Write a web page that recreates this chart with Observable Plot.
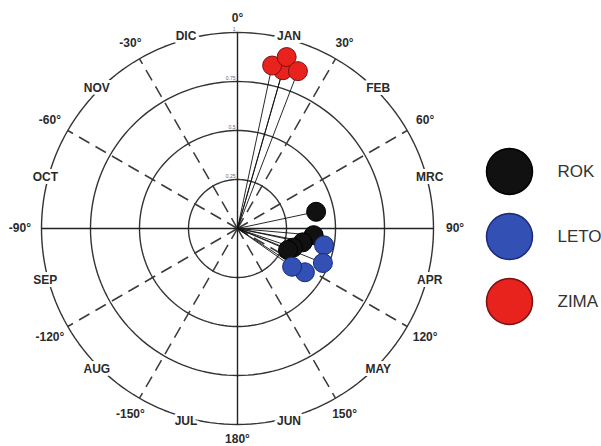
<!DOCTYPE html>
<html><head><meta charset="utf-8">
<script src="https://cdn.jsdelivr.net/npm/d3@7"></script>
<script src="https://cdn.jsdelivr.net/npm/@observablehq/plot@0.6"></script>
<style>
body{margin:0;background:#fff;}
#wrap{position:relative;width:601px;height:446px;overflow:hidden;background:#fff;}
#main{position:absolute;left:0;top:0;}
#legend{position:absolute;left:460px;top:0;}
svg{overflow:visible;}
#main text{paint-order:stroke;}
</style></head><body><div id="wrap"><div id="main"></div><div id="legend"></div></div>
<script>
// Series
const seriesNames = ["ROK", "LETO", "ZIMA"];
const seriesColors = ["#111111", "#3350b5", "#e8231e"];
const seriesStrokes = ["#000000", "#1b2a78", "#7a1010"];

// angle in degrees (clockwise from 0° at top), radius as fraction of outer ring
const rokAngle = [78, 95, 102, 109, 113];
const rokRadius = [0.41, 0.39, 0.34, 0.30, 0.28];
const letoAngle = [101, 112, 123, 125];
const letoRadius = [0.45, 0.47, 0.41, 0.34];
const zimaAngle = [16, 12, 16, 21];
const zimaRadius = [0.84, 0.85, 0.91, 0.86];

// Axis labels
const degreeTicks = [0, 30, 60, 90, 120, 150, 180, -150, -120, -90, -60, -30];
const monthLabels = ["JAN","FEB","MRC","APR","MAY","JUN","JUL","AUG","SEP","OCT","NOV","DIC"];
const monthAngles = [15, 45, 75, 105, 135, 165, 195, 225, 255, 285, 315, 345];
const ringLevels = [0.25, 0.5, 0.75, 1];
const ringLabels = ["0.25", "0.5", "0.75", "1"];
const dashedAngles = [30, 60, 120, 150, -30, -60, -120, -150];
const solidAngles = [0, 90];

const rad = a => a * Math.PI / 180;
const px = (a, r) => r * Math.sin(rad(a));
const py = (a, r) => r * Math.cos(rad(a));

const seriesData = [
  {angle: rokAngle, radius: rokRadius},
  {angle: letoAngle, radius: letoRadius},
  {angle: zimaAngle, radius: zimaRadius}
];
const points = seriesData.flatMap((s, i) => s.angle.map((a, j) => ({series: seriesNames[i], angle: a, radius: s.radius[j]})));

const ringPts = ringLevels.flatMap(level => d3.range(0, 361, 2).map(a => ({level, a})));

const font = "'Liberation Sans', Arial, sans-serif";

const main = Plot.plot({
  width: 470, height: 446,
  marginLeft: 41, marginRight: 37, marginTop: 32, marginBottom: 22,
  x: {domain: [-1, 1], axis: null},
  y: {domain: [-1, 1], axis: null},
  style: {fontFamily: font, background: "transparent"},
  marks: [
    Plot.line(ringPts, {x: d => px(d.a, d.level), y: d => py(d.a, d.level), z: "level", stroke: "#333", strokeWidth: 1.4}),
    Plot.link(dashedAngles, {x1: () => 0, y1: () => 0, x2: a => px(a, 1), y2: a => py(a, 1), stroke: "#3a3a3a", strokeWidth: 1.5, strokeDasharray: "12,7"}),
    Plot.link(solidAngles, {x1: a => px(a, 1), y1: a => py(a, 1), x2: a => px(a + 180, 1), y2: a => py(a + 180, 1), stroke: "#222", strokeWidth: 1.4}),
    Plot.text(ringLevels, {x: () => 0, y: d => d, text: (d, i) => ringLabels[i], dx: -2, dy: -3, textAnchor: "end", fontSize: 5, fill: "#667"}),
    Plot.link(points, {x1: () => 0, y1: () => 0, x2: d => px(d.angle, d.radius), y2: d => py(d.angle, d.radius), stroke: "#111", strokeWidth: 0.9}),
    ...seriesNames.map((s, i) => Plot.dot(points.filter(p => p.series === s), {x: d => px(d.angle, d.radius), y: d => py(d.angle, d.radius), r: 9.5, fill: seriesColors[i], stroke: seriesStrokes[i], strokeWidth: 1})),
    Plot.text(monthLabels, {x: (d, i) => px(monthAngles[i], 1.015), y: (d, i) => py(monthAngles[i], 1.015), text: d => d, fontSize: 12, fontWeight: "bold", fill: "#2a2a2a", stroke: "white", strokeWidth: 6}),
    Plot.text(degreeTicks, {x: a => px(a, 1.075 + 0.035 * Math.abs(Math.sin(rad(a)))), y: a => py(a, 1.075 + 0.035 * Math.abs(Math.sin(rad(a)))), text: a => `${a}°`, fontSize: 12, fontWeight: "bold", fill: "#2a2a2a"})
  ]
});
document.getElementById("main").appendChild(main);

const legend = Plot.plot({
  width: 141, height: 446, margin: 0,
  x: {domain: [0, 1], range: [49, 100], axis: null},
  y: {type: "point", domain: seriesNames, range: [170, 301], padding: 0, axis: null},
  style: {fontFamily: font, background: "transparent"},
  marks: [
    ...seriesNames.map((s, i) => Plot.dot([s], {x: () => 0, y: d => d, r: 23, fill: seriesColors[i], stroke: seriesStrokes[i], strokeWidth: 1.5})),
    Plot.text(seriesNames, {x: () => 0, y: d => d, text: d => d, dx: 48, textAnchor: "start", fontSize: 17, fill: "#333"})
  ]
});
document.getElementById("legend").appendChild(legend);
</script></body></html>
